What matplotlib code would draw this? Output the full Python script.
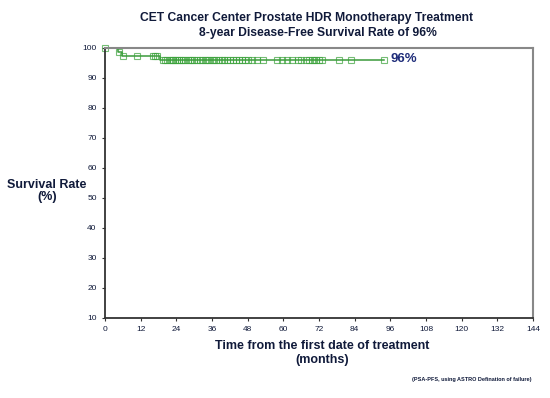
import matplotlib.pyplot as plt

plt.rcParams['font.family'] = ['Liberation Sans', 'DejaVu Sans']

# Kaplan-Meier step curve (months, survival %)
step_times = [0, 4.5, 5.8, 18.5, 94]
step_surv = [100, 98.6, 97.3, 96.0, 96.0]

# censored patients (months, survival % at that time)
cens_times = [0, 4.7, 6.1, 10.6, 16.0, 16.8, 17.6,
              19.5, 20.3, 21.0, 21.8, 22.5, 23.0, 23.6, 24.2, 24.8, 25.5,
              26.2, 27.0, 27.8, 28.5, 29.3, 30.0, 31.0, 31.8, 32.6, 33.5,
              34.2, 35.0, 36.0, 36.8, 37.5, 38.3, 39.2, 40.0, 41.0, 42.0,
              43.0, 44.0, 45.0, 46.0, 47.0, 48.0, 49.5, 51.0, 53.0,
              58.0, 59.6, 61.3, 63.0, 65.0, 66.0, 67.5, 68.5, 69.5, 70.3,
              71.0, 72.0, 73.0, 78.7, 82.7, 94.0]
cens_surv = [100, 98.6, 97.3, 97.3, 97.3, 97.3, 97.3] + [96.0] * 55

xticks = list(range(0, 145, 12))
yticks = list(range(10, 101, 10))

navy = '#101a3a'

fig = plt.figure(figsize=(5.5, 3.98), dpi=100)
ax = fig.add_axes([105 / 550, 1 - 318 / 398, 428 / 550, 270 / 398])

ax.step(step_times, step_surv, where='post', color='#3a9a3a', lw=1.1)
ax.plot(cens_times, cens_surv, ls='none', marker='s', ms=5, mfc='none',
        mec='#3aa23a', mew=0.8, alpha=0.7, clip_on=False)

ax.set_xlim(0, 144)
ax.set_ylim(10, 100)
ax.set_xticks(xticks)
ax.set_yticks(yticks)
ax.tick_params(labelsize=6, length=2.5, width=0.8, colors='#333333', labelcolor=navy)

for s in ['left', 'bottom']:
    ax.spines[s].set_color('#333333')
    ax.spines[s].set_linewidth(1.3)
for s in ['top', 'right']:
    ax.spines[s].set_color('#888888')
    ax.spines[s].set_linewidth(1.5)

ax.text(96, 96.5, '96%', color='#1f2d7a', fontsize=9.5, fontweight='bold',
        va='center', ha='left')

fig.text(307 / 550, 1 - 18 / 398, 'CET Cancer Center Prostate HDR Monotherapy Treatment',
         ha='center', va='center', fontsize=8.7, fontweight='bold', color=navy)
fig.text(318 / 550, 1 - 33 / 398, '8-year Disease-Free Survival Rate of 96%',
         ha='center', va='center', fontsize=8.7, fontweight='bold', color=navy)

fig.text(47 / 550, 1 - 191 / 398, 'Survival Rate\n(%)', ha='center', va='center',
         fontsize=9, fontweight='bold', color=navy, linespacing=1.1)

fig.text(322 / 550, 1 - 353 / 398, 'Time from the first date of treatment\n(months)',
         ha='center', va='center', fontsize=9, fontweight='bold', color=navy,
         linespacing=1.15)

fig.text(532 / 550, 1 - 380 / 398, '(PSA-PFS, using ASTRO Defination of failure)',
         ha='right', va='center', fontsize=4, fontweight='bold', color=navy)

fig.savefig('out.png', dpi=100)
